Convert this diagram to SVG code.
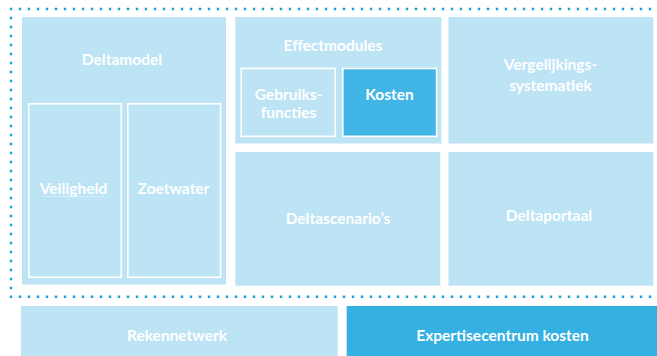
<svg xmlns="http://www.w3.org/2000/svg" width="657" height="356" viewBox="0 0 657 356">
<defs>
<style>
.box{fill:#bde4f5}
.inner{fill:#bde4f5;stroke:#ffffff;stroke-width:1.6}
.dark{fill:#41b5e6;stroke:#ffffff;stroke-width:1.6}
.lbl{font-family:Lato,"Open Sans",sans-serif;font-weight:bold;font-size:15.5px;fill:#ffffff;text-anchor:middle}
.dots{stroke:#1a9fdb;stroke-width:2.4;stroke-dasharray:0 9;stroke-linecap:square;fill:none}
</style>
</defs>
<rect width="657" height="356" fill="#ffffff"/>
<g id="border">
<path class="dots" d="M11 9 H657 M11 9 V296.7 M11 296.7 H657"/>
</g>
<g id="deltamodel">
<rect class="box" x="22" y="17" width="204" height="267.5"/>
<text class="lbl" x="122" y="65">Deltamodel</text>
</g>
<g id="veiligheid">
<rect class="inner" x="28.8" y="103.8" width="92.5" height="173.5"/>
<text class="lbl" x="73.5" y="193.5">Veiligheid</text>
<line x1="42.5" y1="196.5" x2="104.5" y2="196.5" stroke="#d9eff9" stroke-width="0.8"/>
</g>
<g id="zoetwater">
<rect class="inner" x="127.8" y="103.8" width="92.7" height="173.5"/>
<text class="lbl" x="173.5" y="193.5">Zoetwater</text>
</g>
<g id="effectmodules">
<rect class="box" x="235.3" y="17" width="206" height="126.5"/>
<text class="lbl" x="333" y="50.5">Effectmodules</text>
</g>
<g id="gebruiksfuncties">
<rect class="inner" x="241.2" y="68.5" width="94" height="67.8"/>
<text class="lbl" x="288.5" y="99.5">Gebruiks-</text>
<text class="lbl" x="288.5" y="118">functies</text>
</g>
<g id="kosten">
<rect class="dark" x="342.8" y="68.5" width="93.8" height="67.8"/>
<text class="lbl" x="389.5" y="99.5">Kosten</text>
</g>
<g id="vergelijkingssystematiek">
<rect class="box" x="448.5" y="17" width="204.8" height="126.5"/>
<text class="lbl" x="550.5" y="69.5">Vergelijkings-</text>
<text class="lbl" x="550.5" y="91">systematiek</text>
</g>
<g id="deltascenarios">
<rect class="box" x="235.3" y="152" width="205" height="133.7"/>
<text class="lbl" x="338" y="224">Deltascenario’s</text>
</g>
<g id="deltaportaal">
<rect class="box" x="448.5" y="152" width="204.8" height="133.7"/>
<text class="lbl" x="549" y="220.5">Deltaportaal</text>
</g>
<g id="rekennetwerk">
<rect class="box" x="21" y="306" width="316.7" height="50"/>
<text class="lbl" x="177" y="341">Rekennetwerk</text>
</g>
<g id="expertisecentrum">
<rect x="346.7" y="306" width="310.3" height="50" fill="#35b0e3"/>
<text class="lbl" x="502.5" y="341">Expertisecentrum kosten</text>
</g>
<g id="connectors"></g>
</svg>
